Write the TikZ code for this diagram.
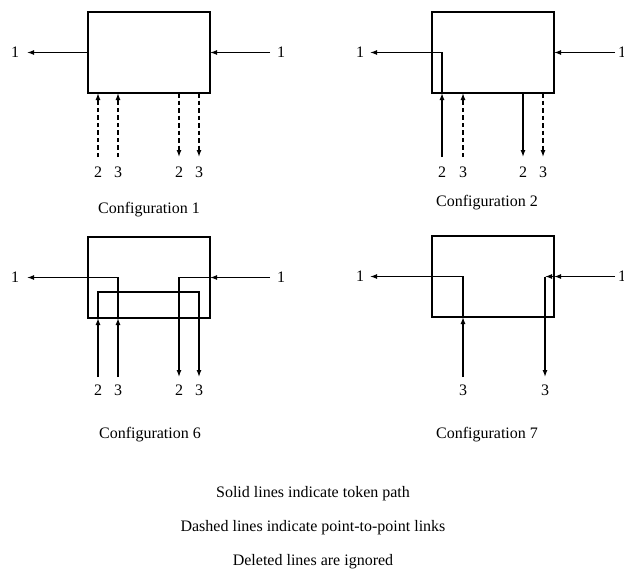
\documentclass[tikz,border=0pt]{standalone}
\usepackage{fontspec}
\setmainfont{Liberation Serif}
\usetikzlibrary{arrows.meta}
\begin{document}
\begin{tikzpicture}[x=1pt,y=-1pt,
  box/.style={draw,line width=1.5pt,minimum width=122pt,minimum height=81pt,inner sep=0pt,outer sep=0pt},
  lbl/.style={font=\fontsize{16}{19}\selectfont,inner sep=0pt},
  captext/.style={font=\fontsize{16}{19}\selectfont,inner sep=0pt},
  tok/.style={line width=1.3pt,-{Latex[length=7pt,width=5pt]}},
  ptp/.style={line width=1.3pt,dash pattern=on 4.5pt off 3pt,-{Latex[length=7pt,width=5pt]}},
]
\useasboundingbox (0,0) rectangle (624,586);

% ---------- Configuration 1 ----------
\node[box] (b1) at (149,52.5) {};
\node[lbl] (c1L) at (15,52.5) {1};
\node[lbl] (c1R) at (281,52.5) {1};
\coordinate (c1a) at (27,52.5);
\coordinate (c1b) at (270,52.5);
\draw[tok] (b1.west) -- (c1a);
\draw[tok] (c1b) -- (b1.east);
\coordinate (c1p2) at (98,157);
\coordinate (c1p3) at (118,157);
\coordinate (c1q2) at (179,157);
\coordinate (c1q3) at (199,157);
\draw[ptp] (c1p2) -- (c1p2 |- b1.south);
\draw[ptp] (c1p3) -- (c1p3 |- b1.south);
\draw[ptp] (c1q2 |- b1.south) -- (c1q2);
\draw[ptp] (c1q3 |- b1.south) -- (c1q3);
\node[lbl] (c1n1) at (98,172) {2};
\node[lbl] (c1n2) at (118,172) {3};
\node[lbl] (c1n3) at (179,172) {2};
\node[lbl] (c1n4) at (199,172) {3};
\node[captext] (cap1) at (149,210) {Configuration 1};

% ---------- Configuration 2 ----------
\node[box] (b2) at (493,52.5) {};
\node[lbl] (c2L) at (360,52.5) {1};
\node[lbl,anchor=west] (c2R) at (618,52.5) {1};
\coordinate (c2a) at (370,52.5);
\coordinate (c2b) at (615,52.5);
\coordinate (c2s2) at (442,157);
\coordinate (c2p3) at (463,157);
\coordinate (c2d2) at (523,157);
\coordinate (c2q3) at (543,157);
\draw[tok] (c2s2) -- (c2s2 |- b2.south);
\draw[tok] (c2s2 |- b2.south) -- (c2s2 |- b2.west) -- (c2a);
\draw[tok] (c2b) -- (b2.east);
\draw[ptp] (c2p3) -- (c2p3 |- b2.south);
\draw[tok] (c2d2 |- b2.south) -- (c2d2);
\draw[ptp] (c2q3 |- b2.south) -- (c2q3);
\node[lbl] (c2n1) at (442,172) {2};
\node[lbl] (c2n2) at (463,172) {3};
\node[lbl] (c2n3) at (523,172) {2};
\node[lbl] (c2n4) at (543,172) {3};
\node[captext] (cap2) at (487,203) {Configuration 2};

% ---------- Configuration 6 ----------
\node[box] (b6) at (149,277.5) {};
\node[lbl] (c6L) at (15,277.5) {1};
\node[lbl] (c6R) at (281,277.5) {1};
\coordinate (c6a) at (27,277.5);
\coordinate (c6b) at (270,277.5);
\coordinate (c6s2) at (98,377);
\coordinate (c6s3) at (118,377);
\coordinate (c6d2) at (179,377);
\coordinate (c6d3) at (199,377);
\coordinate (c6k) at (98,292);
\draw[tok] (c6s3) -- (c6s3 |- b6.south);
\draw[tok] (c6s3 |- b6.south) -- (c6s3 |- b6.west) -- (c6a);
\draw[tok] (c6s2) -- (c6s2 |- b6.south);
\draw[tok] (c6s2 |- b6.south) -- (c6k) -- (c6d3 |- c6k) -- (c6d3);
\draw[tok] (c6b) -- (b6.east);
\draw[tok] (b6.east) -- (c6d2 |- b6.east) -- (c6d2);
\node[lbl] (c6n1) at (98,390) {2};
\node[lbl] (c6n2) at (118,390) {3};
\node[lbl] (c6n3) at (179,390) {2};
\node[lbl] (c6n4) at (199,390) {3};
\node[captext] (cap6) at (150,435) {Configuration 6};

% ---------- Configuration 7 ----------
\node[box] (b7) at (493,276.5) {};
\node[lbl] (c7L) at (360,276.5) {1};
\node[lbl,anchor=west] (c7R) at (618,276.5) {1};
\coordinate (c7a) at (370,276.5);
\coordinate (c7b) at (615,276.5);
\coordinate (c7s) at (463,377);
\coordinate (c7k) at (545,276.5);
\coordinate (c7d) at (545,377);
\draw[tok] (c7s) -- (c7s |- b7.south);
\draw[tok] (c7s |- b7.south) -- (c7s |- b7.west) -- (c7a);
\draw[tok] (c7b) -- (b7.east);
\draw[tok] (b7.east) -- (c7k);
\draw[tok] (c7k) -- (c7d);
\node[lbl] (c7n1) at (463,390) {3};
\node[lbl] (c7n2) at (545,390) {3};
\node[captext] (cap7) at (487,435) {Configuration 7};

% ---------- Legend ----------
\node[captext] (t1) at (313,494) {Solid lines indicate token path};
\node[captext] (t2) at (313,528) {Dashed lines indicate point-to-point links};
\node[captext] (t3) at (313,562) {Deleted lines are ignored};
\end{tikzpicture}
\end{document}
